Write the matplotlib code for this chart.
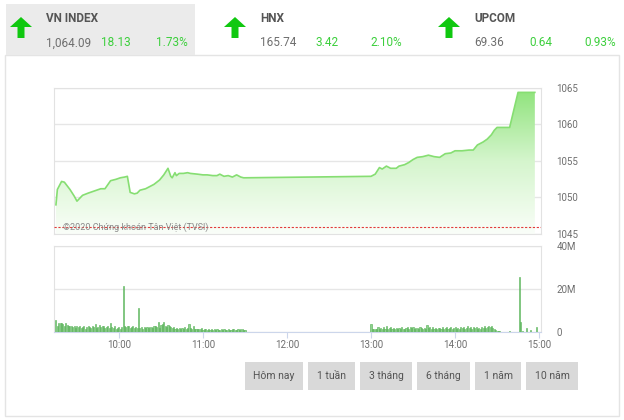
import matplotlib
matplotlib.use("Agg")
import matplotlib.pyplot as plt
import numpy as np
from matplotlib.colors import LinearSegmentedColormap
from matplotlib.patches import FancyArrow, Polygon, Rectangle

plt.rcParams["font.family"] = ["Liberation Sans Narrow", "Roboto", "DejaVu Sans"]

# header quotes
INDEX_NAMES = ["VN INDEX", "HNX", "UPCOM"]
INDEX_LAST = ["1,064.09", "165.74", "69.36"]
INDEX_CHG = ["18.13", "3.42", "0.64"]
INDEX_PCT = ["1.73%", "2.10%", "0.93%"]

# intraday VN-Index
REF_CLOSE = 1045.96
PRICE_TIMES = ["09:15", "09:16", "09:19", "09:21", "09:25", "09:28", "09:30", "09:34",
               "09:38", "09:41", "09:44", "09:47", "09:50", "09:54", "09:58", "10:01",
               "10:04", "10:06", "10:08", "10:11", "10:13", "10:15", "10:19", "10:22",
               "10:25", "10:29", "10:32", "10:35", "10:37", "10:38", "10:40", "10:41",
               "10:43", "10:46", "10:49", "10:51", "10:56", "11:00", "11:03", "11:07",
               "11:10", "11:12", "11:15", "11:18", "11:21", "11:24", "11:27", "11:29",
               "11:30", "12:15", "13:00", "13:03", "13:06", "13:08", "13:11", "13:14",
               "13:18", "13:20", "13:24", "13:27", "13:30", "13:33", "13:37", "13:41",
               "13:45", "13:49", "13:53", "13:57", "14:00", "14:05", "14:10", "14:13",
               "14:16", "14:20", "14:23", "14:26", "14:28", "14:30", "14:39", "14:45",
               "14:57"]
PRICE_VALUES = [1049.0, 1051.1, 1052.2, 1052.1, 1051.1, 1050.2, 1049.5, 1050.3,
                1050.6, 1050.8, 1051.0, 1051.2, 1051.2, 1052.3, 1052.5, 1052.7,
                1052.8, 1052.9, 1050.7, 1050.5, 1050.6, 1051.0, 1051.2, 1051.5,
                1051.8, 1052.4, 1053.1, 1054.0, 1052.9, 1052.7, 1053.4, 1053.0,
                1053.3, 1053.3, 1053.4, 1053.3, 1053.2, 1053.1, 1053.1, 1053.0,
                1053.0, 1053.2, 1052.9, 1053.0, 1052.8, 1053.1, 1052.8, 1052.7,
                1052.7, 1052.8, 1052.9, 1053.2, 1054.1, 1053.9, 1054.3, 1054.0,
                1054.0, 1054.3, 1054.5, 1054.8, 1055.2, 1055.5, 1055.6, 1055.8,
                1055.6, 1055.5, 1056.0, 1056.1, 1056.4, 1056.4, 1056.5, 1056.5,
                1057.2, 1057.6, 1058.0, 1058.6, 1059.2, 1059.6, 1059.6, 1064.4,
                1064.4]

# per-minute matched volume, millions of shares
VOL_AM_START = "09:15"
VOL_AM = [5.5, 3.0, 4.2, 4.0, 4.1, 3.9, 2.6, 4.3, 3.1, 2.7,
          3.0, 2.8, 2.5, 2.9, 1.9, 2.6, 2.2, 2.8, 1.7, 2.5,
          2.9, 1.6, 2.4, 2.7, 2.2, 1.8, 2.9, 2.1, 3.8, 2.0,
          2.5, 3.2, 2.1, 2.8, 2.6, 1.9, 2.3, 3.0, 1.7, 4.0,
          2.2, 1.8, 2.6, 1.5, 1.9, 2.4, 1.6, 2.1, 21.5, 2.8,
          2.2, 3.0, 2.9, 1.8, 2.1, 2.6, 1.7, 2.3, 1.9, 11.0,
          2.0, 2.4, 1.6, 2.2, 1.9, 2.5, 1.8, 2.1, 2.3, 1.7,
          2.6, 2.9, 2.2, 4.6, 1.9, 3.2, 3.7, 4.8, 2.9, 2.5,
          3.1, 2.6, 2.2, 1.8, 2.4, 1.5, 2.0, 1.6, 1.9, 1.4,
          1.8, 1.5, 2.1, 1.6, 1.9, 3.6, 1.7, 1.4, 2.6, 1.5,
          1.3, 1.6, 1.2, 1.5, 1.8, 1.1, 1.4, 1.2, 1.0, 1.3,
          1.1, 1.4, 0.9, 1.2, 1.0, 1.5, 1.1, 0.8, 1.3, 1.0,
          1.2, 0.9, 1.1, 1.4, 1.0, 0.8, 1.2, 1.5, 0.9, 1.1,
          1.3, 1.0, 1.4, 1.2, 0.9, 0.7]
VOL_PM_START = "13:00"
VOL_PM = [3.6, 1.2, 1.5, 1.3, 1.6, 2.1, 1.4, 1.8, 1.3, 2.4,
          1.5, 2.7, 1.6, 1.9, 2.2, 1.4, 1.7, 1.5, 2.0, 1.3,
          1.8, 1.4, 2.3, 1.6, 1.2, 1.9, 2.5, 1.5, 2.1, 1.7,
          2.4, 1.6, 2.0, 1.8, 1.3, 2.2, 1.7, 1.5, 1.9, 1.4,
          3.2, 1.8, 2.1, 1.6, 2.3, 1.5, 1.9, 1.4, 2.0, 1.7,
          1.5, 2.2, 1.6, 1.9, 2.4, 1.3, 1.8, 2.1, 1.5, 1.7,
          2.3, 1.6, 2.0, 1.4, 2.5, 1.8, 2.2, 1.5, 1.9, 2.6,
          1.7, 2.1, 1.5, 2.4, 1.8, 2.2, 1.6, 2.0, 1.4, 2.3,
          1.9, 2.6, 1.7, 2.4, 2.9, 2.2, 2.7, 1.8, 1.2, 0.9,
          0.6, 0.4, 0.3, 0.2]
VOL_LATE_TIMES = ["14:39", "14:46", "14:47", "14:48", "14:51", "14:54", "14:58"]
VOL_LATE = [0.5, 25.4, 4.8, 0.4, 1.8, 0.8, 2.5]

PRICE_TICKS = [1045, 1050, 1055, 1060, 1065]
VOL_TICKS = [0, 20, 40]
VOL_TICK_LABELS = ["0", "20M", "40M"]
TIME_TICKS = ["10:00", "11:00", "12:00", "13:00", "14:00", "15:00"]
BUTTONS = ["Hôm nay", "1 tuần", "3 tháng", "6 tháng", "1 năm", "10 năm"]
WATERMARK = "©2020 Chứng khoán Tân Việt (TVSI)"

GREEN_TXT = "#3ccf3c"
ARROW_GREEN = "#10c810"
GREY_TXT = "#6e6e6e"
W, H = 624, 420


def mins(s):
    h, m = s.split(":")
    return int(h) * 60 + int(m)


def rect(px_left, px_top, px_right, px_bottom):
    return [px_left / W, 1 - px_bottom / H, (px_right - px_left) / W, (px_bottom - px_top) / H]


fig = plt.figure(figsize=(W / 100, H / 100), dpi=100)

# pixel-space overlay for header, panel and buttons
bg = fig.add_axes([0, 0, 1, 1], zorder=-1)
bg.set_xlim(0, W)
bg.set_ylim(H, 0)
bg.axis("off")
bg.add_patch(Rectangle((5, 55), 614, 361, facecolor="white", edgecolor="#e4e4e4", lw=1))
bg.add_patch(Rectangle((6, 4), 189, 51, facecolor="#ebebeb", edgecolor="none"))

for i, (name, last, chg, pct) in enumerate(zip(INDEX_NAMES, INDEX_LAST, INDEX_CHG, INDEX_PCT)):
    x0 = 46 + i * 214
    bg.add_patch(FancyArrow(x0 - 25, 38, 0, -11, width=7, head_width=22, head_length=10,
                            color=ARROW_GREEN, lw=0))
    bg.text(x0, 19, name, fontsize=8.5, fontweight="bold", color="#555555", va="center")
    bg.text(x0, 43, last, fontsize=8.5, color=GREY_TXT, va="center")
    bg.text(x0 + 55, 43, chg, fontsize=8.5, color=GREEN_TXT, va="center")
    bg.text(x0 + 110, 43, pct, fontsize=8.5, color=GREEN_TXT, va="center")

bx = 245
bw = [58, 47, 52, 53, 46, 52]
for lbl, w in zip(BUTTONS, bw):
    bg.add_patch(Rectangle((bx, 362), w, 28, facecolor="#d9d9d9", edgecolor="none"))
    bg.text(bx + w / 2, 376, lbl, fontsize=7.5, color="#555555", ha="center", va="center")
    bx += w + 5

xlo, xhi = 9 * 60 + 13.6, 15 * 60 + 1.4

# price panel
ax = fig.add_axes(rect(54, 88, 541, 234))
t = [mins(s) for s in PRICE_TIMES]
cmap = LinearSegmentedColormap.from_list("g", ["#fafef9", "#d5f5cd", "#8ee37a"])
grad = np.linspace(0, 1, 256).reshape(-1, 1)
im = ax.imshow(grad, extent=[t[0], t[-1], 1045, 1065], origin="lower", cmap=cmap,
               aspect="auto", zorder=1)
clip = Polygon(np.column_stack([t + [t[-1], t[0]], PRICE_VALUES + [1045, 1045]]),
               transform=ax.transData, facecolor="none", edgecolor="none")
ax.add_patch(clip)
im.set_clip_path(clip)
ax.plot(t, PRICE_VALUES, color="#86de72", lw=1.2, zorder=3)
ax.axhline(REF_CLOSE, color="#e23b3b", ls=(0, (2, 1.5)), lw=0.8, zorder=4)
ax.text(mins("09:20"), REF_CLOSE, WATERMARK, fontsize=6.5, color="#8a8a8a",
        va="center", ha="left", zorder=5)
ax.set_xlim(xlo, xhi)
ax.set_ylim(1045, 1065)
ax.set_xticks([])
ax.set_yticks(PRICE_TICKS)
ax.yaxis.tick_right()
ax.tick_params(axis="y", length=0, pad=11, labelsize=7, labelcolor=GREY_TXT)
ax.grid(axis="y", color="#e6e6e6", lw=1)
ax.set_axisbelow(True)
for s in ax.spines.values():
    s.set_color("#e2e2e2")

# volume panel
vx = [mins(VOL_AM_START) + i for i in range(len(VOL_AM))]
vx += [mins(VOL_PM_START) + i for i in range(len(VOL_PM))]
vx += [mins(s) for s in VOL_LATE_TIMES]
vv = VOL_AM + VOL_PM + VOL_LATE
ax2 = fig.add_axes(rect(54, 246, 541, 332))
ax2.bar(vx, vv, width=0.75, color="#8fd08f", edgecolor="#4fae4f", linewidth=0.4, zorder=3)
ax2.set_xlim(xlo, xhi)
ax2.set_ylim(0, 40)
ax2.set_yticks(VOL_TICKS)
ax2.set_yticklabels(VOL_TICK_LABELS)
ax2.yaxis.tick_right()
ax2.set_xticks([mins(s) for s in TIME_TICKS])
ax2.set_xticklabels(TIME_TICKS)
ax2.tick_params(axis="y", length=0, pad=11, labelsize=7, labelcolor=GREY_TXT)
ax2.tick_params(axis="x", length=4, width=0.8, color="#ccd6eb", pad=2,
                labelsize=7, labelcolor=GREY_TXT)
ax2.grid(axis="y", color="#e6e6e6", lw=1)
ax2.set_axisbelow(True)
for s in ax2.spines.values():
    s.set_color("#e2e2e2")
ax2.spines["bottom"].set_color("#ccd6eb")

fig.savefig("out.png", dpi=100)
